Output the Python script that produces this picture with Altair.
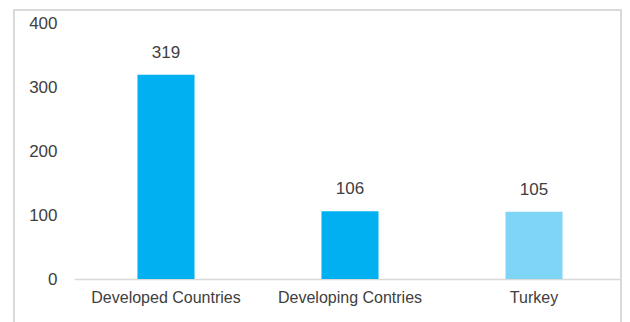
import altair as alt
import pandas as pd

categories = ["Developed Countries", "Developing Contries", "Turkey"]
values = [319, 106, 105]
y_ticks = [0, 100, 200, 300, 400]

df = pd.DataFrame({"category": categories, "value": values})

FONT = "Liberation Sans"
TXT = "#404040"

x_enc = alt.X(
    "category:N",
    sort=categories,
    scale=alt.Scale(paddingInner=0.69, paddingOuter=0.345),
    axis=alt.Axis(
        title=None, labelAngle=0, labelFont=FONT, labelFontSize=16,
        labelColor=TXT, ticks=False, domainColor="#d9d9d9",
        domainWidth=1.5, labelPadding=10,
    ),
)
y_enc = alt.Y(
    "value:Q",
    scale=alt.Scale(domain=[0, 400], nice=False),
    axis=alt.Axis(
        title=None, values=y_ticks, grid=False, domain=False, ticks=False,
        labelFont=FONT, labelFontSize=17, labelColor=TXT, labelPadding=17,
    ),
)

bars = alt.Chart(df).mark_bar().encode(
    x=x_enc,
    y=y_enc,
    color=alt.Color(
        "category:N",
        scale=alt.Scale(domain=categories, range=["#00B0F0", "#00B0F0", "#7FD5F5"]),
        legend=None,
    ),
)

labels = alt.Chart(df).mark_text(
    baseline="alphabetic", dy=-17, font=FONT, fontSize=17, color=TXT
).encode(x=alt.X("category:N", sort=categories), y="value:Q", text="value:Q")

border = alt.Chart(pd.DataFrame({"b": [0]})).mark_rect(
    fill=None, stroke="#d9d9d9", strokeWidth=2
).encode(
    x=alt.value(-60), x2=alt.value(547), y=alt.value(-13), y2=alt.value(340)
)

chart = alt.layer(border, bars, labels).properties(
    width=552,
    height=256,
    autosize=alt.AutoSizeParams(type="none"),
    padding={"left": 66, "top": 15, "right": -4, "bottom": 43},
    background="white",
).configure_view(stroke=None)

chart.save("out.html", embed_options={"renderer": "svg", "actions": False})
